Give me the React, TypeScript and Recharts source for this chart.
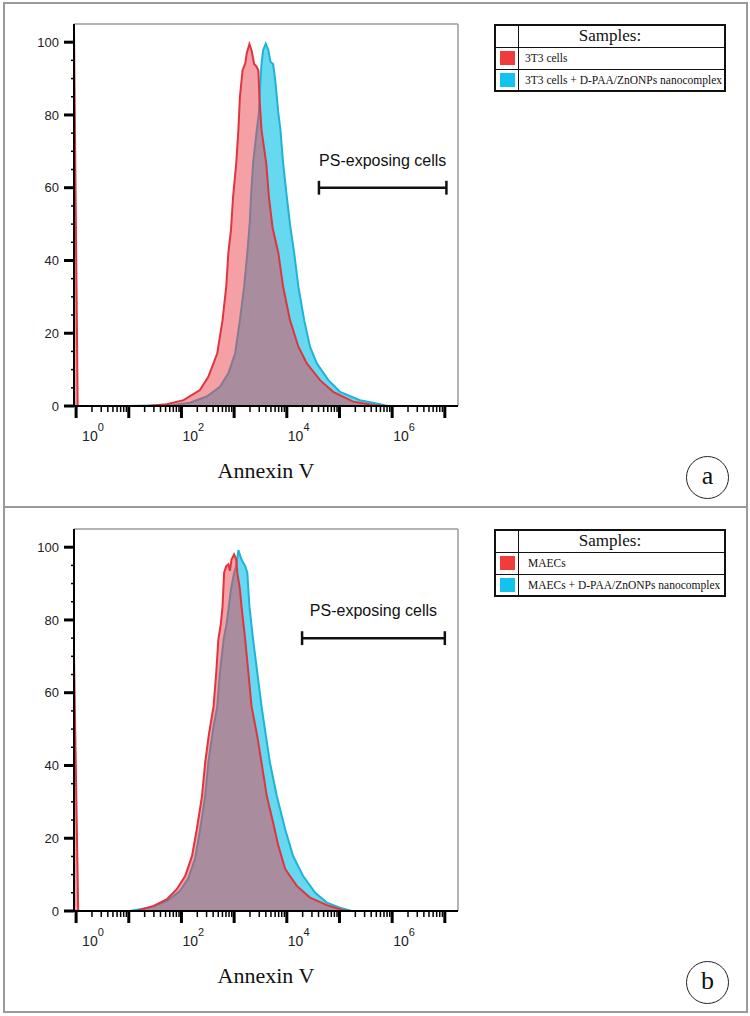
import React from 'react';
import { ComposedChart, Area, XAxis, YAxis, ReferenceLine, Label } from 'recharts';

const SANS = '"Liberation Sans", Arial, sans-serif';
const SERIF = '"Liberation Serif", "Times New Roman", serif';

const RED_LINE = '#e0343f';
const RED_FILL = '#eb414b';
const BLUE_LINE = '#1fb3d6';
const BLUE_FILL = '#00bee6';

// x values are log10(Annexin V intensity)
const X_MIN = -0.04;
const X_MAX = 7.25;
const Y_MAX = 105;

const decades = [0, 1, 2, 3, 4, 5, 6, 7];
const minorSteps = [0.301, 0.477, 0.602, 0.699, 0.778, 0.845, 0.903, 0.954];
const labelledDecades = [0, 2, 4, 6];
const yTicks = [0, 5, 10, 15, 20, 25, 30, 35, 40, 45, 50, 55, 60, 65, 70, 75, 80, 85, 90, 95, 100];
const yLabelled = [0, 20, 40, 60, 80, 100];

const gateLabel = 'PS-exposing cells';
const axisTitle = 'Annexin V';
const legendTitle = 'Samples:';

// panel a: 3T3 cells
const samplesA = ['3T3 cells', '3T3 cells + D-PAA/ZnONPs nanocomplex'];
const red3T3 = [
  [-0.04, 103], [0.03, 0], [1.21, 0], [1.4, 0.1], [1.72, 0.5], [2.04, 1.6], [2.35, 4.4], [2.51, 8],
  [2.68, 14.5], [2.78, 23.6], [2.85, 32.8], [2.89, 42], [2.94, 48.4], [2.98, 57.5], [3.04, 66.7],
  [3.08, 75.8], [3.11, 85], [3.16, 92.3], [3.21, 94.1], [3.24, 97], [3.29, 99.5], [3.33, 97.8],
  [3.38, 94], [3.42, 93.4], [3.46, 92.3], [3.48, 85], [3.52, 75.8], [3.61, 66.7], [3.66, 57.5],
  [3.73, 49], [3.84, 42], [3.93, 32.8], [4.06, 23.6], [4.22, 16.3], [4.38, 11.7], [4.63, 7.1],
  [4.88, 3.9], [5.26, 1.2], [5.64, 0.3], [5.86, 0], [7.25, 0],
];
const blue3T3 = [
  [1.0, 0], [1.85, 0.3], [2.16, 0.9], [2.48, 2.6], [2.73, 5.3], [2.89, 9], [3.02, 14.5], [3.11, 23.6],
  [3.19, 32.8], [3.25, 42], [3.3, 51], [3.32, 57.5], [3.36, 66.7], [3.43, 75.8], [3.47, 80.5],
  [3.5, 89.6], [3.52, 94], [3.55, 97.8], [3.6, 99.6], [3.65, 97.8], [3.69, 94.6], [3.74, 94],
  [3.78, 89.6], [3.84, 80.4], [3.88, 75.8], [3.93, 66.7], [4.0, 57.5], [4.06, 50], [4.14, 42],
  [4.22, 32.8], [4.33, 23.6], [4.44, 16.3], [4.57, 11.7], [4.79, 7.1], [5.01, 3.9], [5.39, 1.6],
  [5.77, 0.5], [5.92, 0],
];

// panel b: MAECs
const samplesB = ['MAECs', 'MAECs + D-PAA/ZnONPs nanocomplex'];
const redMAEC = [
  [-0.04, 70], [0.04, 0], [1.15, 0], [1.47, 1.4], [1.72, 3.2], [1.91, 6], [2.07, 9.6], [2.2, 15.1],
  [2.29, 22.4], [2.39, 31.6], [2.45, 40.8], [2.52, 48.5], [2.61, 56.3], [2.66, 65.5], [2.7, 74.6],
  [2.75, 79.2], [2.78, 83.8], [2.81, 93], [2.85, 94.8], [2.89, 95.3], [2.92, 93.5], [2.95, 96.6],
  [3.0, 98], [3.04, 96.6], [3.06, 93], [3.11, 88.4], [3.14, 83.8], [3.21, 74.6], [3.27, 65.5],
  [3.33, 56.3], [3.44, 48], [3.52, 40.8], [3.62, 31.6], [3.74, 24.3], [3.84, 17.9], [3.97, 11.5],
  [4.19, 6.9], [4.44, 3.7], [4.76, 1.6], [5.07, 0.2], [5.2, 0], [7.25, 0],
];
const blueMAEC = [
  [1.02, 0], [1.47, 1.2], [1.75, 3], [1.97, 5.5], [2.13, 9], [2.26, 14.5], [2.35, 22], [2.45, 31.6],
  [2.51, 40.8], [2.6, 50], [2.68, 56.3], [2.73, 65.5], [2.8, 74.6], [2.86, 79.2], [2.94, 88.4],
  [3.0, 93], [3.04, 94.8], [3.08, 99.2], [3.14, 96.6], [3.21, 94.8], [3.25, 93], [3.29, 83.8],
  [3.36, 74.6], [3.44, 65.5], [3.52, 56.3], [3.6, 48.5], [3.68, 40.8], [3.81, 31.6], [3.97, 22.4],
  [4.12, 15.1], [4.31, 9.6], [4.54, 5], [4.76, 2.3], [5.01, 0.9], [5.23, 0],
];

// gate bar (log10 from, log10 to, height)
const gateA = [4.61, 7.03, 60];
const gateB = [4.29, 7.0, 75];

const xTicks = decades
  .flatMap((d) => [d, ...minorSteps.map((s) => d + s)])
  .filter((v) => v <= X_MAX);

function mergeSeries(red: number[][], blue: number[][]) {
  const rows = new Map<number, any>();
  red.forEach(([x, v]) => rows.set(x, { ...(rows.get(x) || { x }), red: v }));
  blue.forEach(([x, v]) => rows.set(x, { ...(rows.get(x) || { x }), blue: v }));
  return [...rows.values()].sort((a, b) => a.x - b.x);
}

const XTick = ({ x, y, payload }: any) => {
  const v = payload.value;
  const major = decades.includes(v);
  return (
    <g>
      <line x1={x} x2={x} y1={y} y2={y + (major ? 12 : 6)} stroke="#000" strokeWidth={major ? 3 : 1.5} />
      {labelledDecades.includes(v) && (
        <text x={x + (v === 0 ? 6 : 1)} y={y + 35} fontSize={14} fontFamily={SANS} fill="#222">
          10
          <tspan dy={-10} fontSize={11}>{v}</tspan>
        </text>
      )}
    </g>
  );
};

const YTick = ({ x, y, payload }: any) => {
  const v = payload.value;
  const major = yLabelled.includes(v);
  return (
    <g>
      <line x1={x - (major ? 10 : 3)} x2={x} y1={y} y2={y} stroke="#000" strokeWidth={major ? 3 : 1.5} />
      {major && (
        <text x={x - 15} y={y} dy="0.36em" textAnchor="end" fontSize={13} fontFamily={SANS} fill="#222">
          {v}
        </text>
      )}
    </g>
  );
};

function Histogram({ red, blue, gate }: { red: number[][]; blue: number[][]; gate: number[] }) {
  const data = mergeSeries(red, blue);
  const [g0, g1, gy] = gate;
  return (
    <ComposedChart width={480} height={508} data={data} margin={{ top: 24, right: 22, bottom: 30, left: 0 }}>
      <XAxis
        type="number"
        dataKey="x"
        domain={[X_MIN, X_MAX]}
        allowDataOverflow
        ticks={xTicks}
        interval={0}
        tickLine={false}
        tickSize={0}
        tickMargin={0}
        height={72}
        axisLine={{ stroke: '#000', strokeWidth: 2 }}
        tick={(p: any) => <XTick {...p} />}
        label={{ value: axisTitle, position: 'insideBottom', offset: 0, fontSize: 22, fontFamily: SERIF, fill: '#111' }}
      />
      <YAxis
        type="number"
        domain={[0, Y_MAX]}
        allowDataOverflow
        ticks={yTicks}
        interval={0}
        width={74}
        tickLine={false}
        tickSize={0}
        tickMargin={0}
        axisLine={{ stroke: '#000', strokeWidth: 2 }}
        tick={(p: any) => <YTick {...p} />}
      />
      <ReferenceLine y={Y_MAX} stroke="#9a9a9a" strokeWidth={1.5} />
      <ReferenceLine x={X_MAX} stroke="#9a9a9a" strokeWidth={1.5} />
      <Area
        dataKey="blue"
        type="linear"
        stroke={BLUE_LINE}
        strokeWidth={2}
        fill={BLUE_FILL}
        fillOpacity={0.6}
        connectNulls
        dot={false}
        activeDot={false}
        isAnimationActive={false}
      />
      <Area
        dataKey="red"
        type="linear"
        stroke={RED_LINE}
        strokeWidth={2}
        fill={RED_FILL}
        fillOpacity={0.5}
        connectNulls
        dot={false}
        activeDot={false}
        isAnimationActive={false}
      />
      <ReferenceLine segment={[{ x: g0, y: gy }, { x: g1, y: gy }]} stroke="#111" strokeWidth={2.5}>
        <Label value={gateLabel} position="top" offset={22} fontSize={16} fontFamily={SANS} fill="#111" />
      </ReferenceLine>
      <ReferenceLine segment={[{ x: g0, y: gy - 1.9 }, { x: g0, y: gy + 1.9 }]} stroke="#111" strokeWidth={2.5} />
      <ReferenceLine segment={[{ x: g1, y: gy - 1.9 }, { x: g1, y: gy + 1.9 }]} stroke="#111" strokeWidth={2.5} />
    </ComposedChart>
  );
}

function Legend({ top, names, pad }: { top: number; names: string[]; pad: number }) {
  const row = (color: string, name: string, h: number, last: boolean) => (
    <div style={{ display: 'flex', height: h, borderTop: '1.5px solid #111', boxSizing: 'border-box' }}>
      <div style={{ width: 22, borderRight: '1.5px solid #111', display: 'flex', alignItems: 'center', justifyContent: 'center' }}>
        <div style={{ width: 15, height: 14, background: color }} />
      </div>
      <div style={{ flex: 1, display: 'flex', alignItems: 'center', paddingLeft: pad, fontFamily: SERIF, fontSize: 11.5, color: '#111', whiteSpace: 'nowrap' }}>
        {name}
      </div>
    </div>
  );
  return (
    <div style={{ position: 'absolute', left: 494, top, width: 232, height: 68, border: '2px solid #111', boxSizing: 'border-box', background: '#fff' }}>
      <div style={{ position: 'relative', height: 21, display: 'flex' }}>
        <div style={{ width: 22, borderRight: '1.5px solid #111' }} />
        <div style={{ position: 'absolute', left: 0, right: 0, top: 0, bottom: 0, display: 'flex', alignItems: 'center', justifyContent: 'center', fontFamily: SERIF, fontSize: 17, color: '#111' }}>
          {legendTitle}
        </div>
      </div>
      {row('#f23b3b', names[0], 22, false)}
      {row('#12c3f0', names[1], 21, true)}
    </div>
  );
}

function Tag({ top, letter }: { top: number; letter: string }) {
  return (
    <div style={{ position: 'absolute', left: 686, top, width: 43, height: 43, border: '1px solid #222', borderRadius: '50%', boxSizing: 'border-box', display: 'flex', alignItems: 'center', justifyContent: 'center', fontFamily: SERIF, fontSize: 26, color: '#111', lineHeight: 1, paddingBottom: 3 }}>
      {letter}
    </div>
  );
}

export default function App() {
  return (
    <div style={{ position: 'absolute', left: 0, top: 0, width: 750, height: 1016, background: '#fff', overflow: 'hidden' }}>
      <div style={{ position: 'absolute', left: 3, top: 2, width: 745, height: 1011, border: '2px solid #9a9a9a', boxSizing: 'border-box' }} />
      <div style={{ position: 'absolute', left: 3, top: 506, width: 745, height: 2, background: '#9a9a9a' }} />

      <div style={{ position: 'absolute', left: 0, top: 0 }}>
        <Histogram red={red3T3} blue={blue3T3} gate={gateA} />
      </div>
      <Legend top={23.5} names={samplesA} pad={6} />
      <Tag top={455.5} letter="a" />

      <div style={{ position: 'absolute', left: 0, top: 505 }}>
        <Histogram red={redMAEC} blue={blueMAEC} gate={gateB} />
      </div>
      <Legend top={528.5} names={samplesB} pad={9} />
      <Tag top={961} letter="b" />
    </div>
  );
}
